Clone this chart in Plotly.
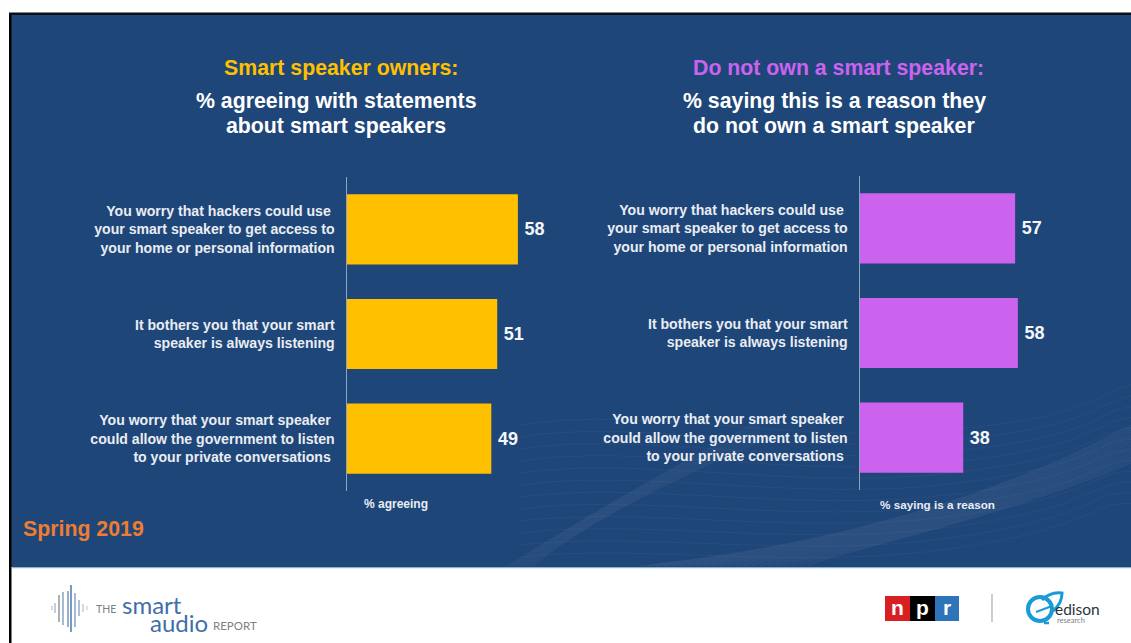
import plotly.graph_objects as go

WIDTH, HEIGHT = 1131, 643

# Survey results
statements = [
    "You worry that hackers could use\u00a0<br>your smart speaker to get access to<br>your home or personal information",
    "It bothers you that your smart<br>speaker is always listening",
    "You worry that your smart speaker\u00a0<br>could allow the government to listen<br>to your private conversations\u00a0",
]
owners_pct = [58, 51, 49]
non_owners_pct = [57, 58, 38]

owner_color = "#ffc000"
non_owner_color = "#cc63ee"
panel_color = "#1f4679"
font_family = "Liberation Sans, Arial, sans-serif"
logo_family = "Lato, Open Sans, sans-serif"
label_color = "#e9edf3"


def bar_trace(values, color, xaxis, yaxis):
    return go.Bar(
        x=values,
        y=statements,
        orientation="h",
        xaxis=xaxis,
        yaxis=yaxis,
        marker=dict(color=color, line=dict(width=0)),
        text=[f"\u2009{v}" for v in values],
        textposition="outside",
        textfont=dict(family=font_family, size=18, color="#f4f6f9", weight="bold"),
        cliponaxis=False,
        hoverinfo="skip",
        showlegend=False,
    )


fig = go.Figure()
# An invisible point registers the full-page pixel frame; it is the first subplot,
# so everything drawn in it stays underneath the bars
fig.add_trace(go.Scatter(x=[0], y=[0], xaxis="x", yaxis="y", mode="markers",
                         marker=dict(opacity=0), hoverinfo="skip", showlegend=False))
fig.add_trace(bar_trace(owners_pct, owner_color, "x2", "y2"))
fig.add_trace(bar_trace(non_owners_pct, non_owner_color, "x3", "y3"))


def hx(px):
    return px / WIDTH


def vy(px):
    return 1 - px / HEIGHT


def value_axis(left, right, anchor):
    return dict(domain=[hx(left), hx(right)], range=[0, 70], visible=False,
                anchor=anchor, fixedrange=True)


def category_axis(top, bottom, anchor):
    return dict(
        domain=[vy(bottom), vy(top)],
        anchor=anchor,
        autorange="reversed",
        showline=True,
        linecolor="#8fa3bf",
        linewidth=1,
        ticks="outside",
        ticklen=8,
        tickcolor="rgba(0,0,0,0)",
        showgrid=False,
        tickfont=dict(family=font_family, size=14.1, color=label_color, weight="bold"),
        fixedrange=True,
    )


shapes = []


def rect(x0, y0, x1, y1, fill, layer="below"):
    shapes.append(dict(type="rect", xref="x", yref="y", x0=x0, y0=y0, x1=x1, y1=y1,
                       fillcolor=fill, line=dict(width=0), layer=layer))


def stroke(x0, y0, x1, y1, color, width=1.0, layer="below"):
    shapes.append(dict(type="line", xref="x", yref="y", x0=x0, y0=y0, x1=x1, y1=y1,
                       line=dict(color=color, width=width), layer=layer))


def curve(path, color, width=0.6, opacity=1.0):
    shapes.append(dict(type="path", xref="x", yref="y", path=path, opacity=opacity,
                       line=dict(color=color, width=width), layer="below"))


# Slide panel
rect(10, 14, WIDTH, 567, panel_color)

# Decorative mesh of thin strands behind the lower part of the panel
for i in range(14):
    d = i * 1.4
    curve(f"M {508 + i * 2},566 C 570,{526 + d * 0.4:.1f} 650,{480 + d * 0.5:.1f} "
          f"760,{420 + d * 1.2:.1f}",
          "#ffffff", 0.5, 0.09)
for i in range(22):
    d = i * 1.8
    curve(f"M {640 + i * 8},566 C 830,{546 + d * 0.2:.1f} 1000,{496 + d * 0.6:.1f} "
          f"1131,{425 + d * 1.0:.1f}",
          "#ffffff", 0.5, 0.12)
for i in range(12):
    d = i * 12
    curve(f"M 520,{425 + d:.1f} C 640,{405 + d * 1.05:.1f} 800,{445 + d * 0.95:.1f} "
          f"950,{430 + d * 0.9:.1f} S 1090,{395 + d * 0.8:.1f} 1131,{385 + d * 0.9:.1f}",
          "#ffffff", 0.6, 0.06)

# Slide frame and footer rule
rect(9, 13, 11.5, HEIGHT, "#000000")
rect(9, 12.6, WIDTH, 15, "#0a0f18")
rect(11.5, 567, WIDTH, 568.2, "#8fb3c9")

# Waveform mark of the report logo
wave_bars = [
    (52, 606, 610, "#b9c9de"), (55, 603, 613, "#a9b9cf"), (59, 595, 622, "#8a8f96"),
    (63, 592, 625, "#7f9cc4"), (68, 591, 627, "#6d8fbd"), (71, 585, 632, "#3e6fb0"),
    (75, 593, 627, "#7f9cc4"), (79, 600, 616, "#8fa5c4"), (83, 604, 612, "#b9c9de"),
    (87, 606, 610, "#ccd7e6"),
]
for x, y0, y1, col in wave_bars:
    stroke(x, y0, x, y1, col, 1.4)

# Broadcaster and research-firm logos
rect(885, 596, 910, 621, "#d62021")
rect(910, 596, 935, 621, "#000000")
rect(935, 596, 959, 621, "#2f73b8")
stroke(992, 594, 992, 622, "#a9adb1", 1.2)
shapes.append(dict(type="circle", xref="x", yref="y", x0=1028, y0=597, x1=1052, y1=621,
                   line=dict(color="#1a9ad6", width=4), layer="below"))
curve("M 1042,600 C 1048,594 1055,592 1062,593 C 1062,600 1059,606 1053,611",
      "#1a9ad6", 3)
curve("M 1036,612 L 1052,606", "#1a9ad6", 2)
stroke(1044, 623, 1049, 623, "#1a9ad6", 2.5)


def note(x, y, text, size, color, bold=True, anchor="center", family=font_family):
    return dict(
        xref="x", yref="y", x=x, y=y, text=text, showarrow=False,
        xanchor=anchor, yanchor="middle",
        font=dict(family=family, size=size, color=color, weight="bold" if bold else "normal"),
    )


annotations = [
    note(340.5, 68, "Smart speaker owners:", 21.3, owner_color),
    note(336, 101, "% agreeing with statements", 21.3, "#ffffff"),
    note(336, 126, "about smart speakers", 21.3, "#ffffff"),
    note(838, 68, "Do not own a smart speaker:", 21.3, non_owner_color),
    note(834, 101, "% saying this is a reason they", 21.3, "#ffffff"),
    note(834, 126, "do not own a smart speaker", 21.3, "#ffffff"),
    note(396, 504, "% agreeing", 12, label_color),
    note(937, 504, "% saying is a reason", 11.7, label_color),
    note(21, 529, "Spring 2019", 21.3, "#ed7d31", anchor="left"),
    note(94, 609, "THE", 10.5, "#7d8084", bold=False, anchor="left", family=logo_family),
    note(120, 604, "smart", 24, "#3f6fa9", bold=False, anchor="left", family=logo_family),
    note(148, 622, "audio", 24, "#3f6fa9", bold=False, anchor="left", family=logo_family),
    note(211, 625, "REPORT", 11.5, "#7d8084", bold=False, anchor="left", family=logo_family),
    note(897.5, 607, "n", 21, "#ffffff"),
    note(922.5, 607, "p", 21, "#ffffff"),
    note(947, 607, "r", 21, "#ffffff"),
    note(1053, 609, "edison", 15.5, "#2b3238", bold=False, anchor="left", family=logo_family),
    note(1055, 620, "research", 7.5, "#7d8084", bold=False, anchor="left", family=logo_family),
]

fig.update_layout(
    width=WIDTH,
    height=HEIGHT,
    margin=dict(l=0, r=0, t=0, b=0),
    paper_bgcolor="#ffffff",
    plot_bgcolor="rgba(0,0,0,0)",
    barmode="overlay",
    bargap=0.33,
    xaxis=dict(domain=[0, 1], range=[0, WIDTH], visible=False, anchor="y", fixedrange=True),
    yaxis=dict(domain=[0, 1], range=[HEIGHT, 0], visible=False, anchor="x", fixedrange=True),
    xaxis2=value_axis(346.5, 346.5 + 2.955 * 70, "y2"),
    yaxis2=category_axis(177, 491, "x2"),
    xaxis3=value_axis(859.5, 859.5 + 2.73 * 70, "y3"),
    yaxis3=category_axis(176, 490, "x3"),
    shapes=shapes,
    annotations=annotations,
)

fig.write_html("out.html", config=dict(displayModeBar=False))
